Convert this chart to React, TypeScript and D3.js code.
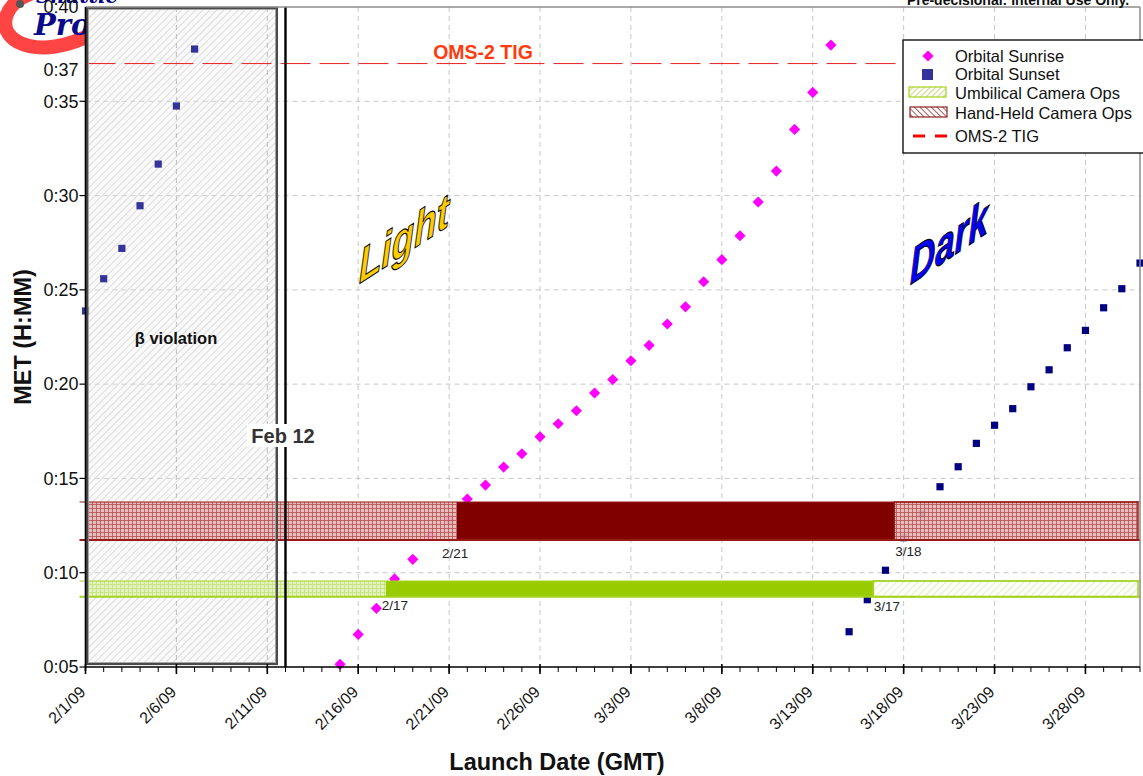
import React from "react";
import * as d3 from "d3";

// ---------- data ----------
const sunriseDates = [
  "2009-02-15", "2009-02-16", "2009-02-17", "2009-02-18", "2009-02-19", "2009-02-20", "2009-02-21",
  "2009-02-22", "2009-02-23", "2009-02-24", "2009-02-25", "2009-02-26", "2009-02-27", "2009-02-28",
  "2009-03-01", "2009-03-02", "2009-03-03", "2009-03-04", "2009-03-05", "2009-03-06", "2009-03-07",
  "2009-03-08", "2009-03-09", "2009-03-10", "2009-03-11", "2009-03-12", "2009-03-13", "2009-03-14",
];
const sunriseMET = [
  5.14, 6.73, 8.11, 9.67, 10.71, 11.98, 12.83, 13.91, 14.65, 15.6, 16.31, 17.21, 17.9, 18.59,
  19.53, 20.24, 21.24, 22.06, 23.19, 24.1, 25.43, 26.6, 27.87, 29.66, 31.3, 33.51, 35.47, 37.98,
];
const sunsetDates = [
  "2009-02-01", "2009-02-02", "2009-02-03", "2009-02-04", "2009-02-05", "2009-02-06", "2009-02-07",
  "2009-03-15", "2009-03-16", "2009-03-17", "2009-03-18", "2009-03-19", "2009-03-20", "2009-03-21",
  "2009-03-22", "2009-03-23", "2009-03-24", "2009-03-25", "2009-03-26", "2009-03-27", "2009-03-28",
  "2009-03-29", "2009-03-30", "2009-03-31",
];
const sunsetMET = [
  23.88, 25.59, 27.2, 29.46, 31.67, 34.75, 37.77,
  6.87, 8.57, 10.13, 11.86, 13.11, 14.56, 15.62, 16.86, 17.82, 18.7, 19.86, 20.76, 21.93, 22.85,
  24.05, 25.06, 26.42,
];
const xTickDates = [
  "2009-02-01", "2009-02-06", "2009-02-11", "2009-02-16", "2009-02-21", "2009-02-26",
  "2009-03-03", "2009-03-08", "2009-03-13", "2009-03-18", "2009-03-23", "2009-03-28",
];
const yTickMinutes = [5, 10, 15, 20, 25, 30, 35, 40];
const xDomain = ["2009-02-01", "2009-03-31"];
const yDomain = [5, 40];
const tigMinutes = 37;
const betaWindow = ["2009-02-01", "2009-02-11T12:40"];
const feb12Date = "2009-02-12";
const umbilicalMET = [8.73, 9.56];
const umbilicalSolid = ["2009-02-17T12:30", "2009-03-16T08:00"];
const handheldMET = [11.73, 13.75];
const handheldSolid = ["2009-02-21T10:00", "2009-03-17T11:45"];
const bandLabels = ["2/17", "3/17", "2/21", "3/18"];
const bandLabelDates = ["2009-02-17T07:00", "2009-03-16T08:30", "2009-02-20T14:30", "2009-03-17T13:00"];
const bandLabelMET = [8.29, 8.2, 11.04, 11.15];
const legendLabels = ["Orbital Sunrise", "Orbital Sunset", "Umbilical Camera Ops", "Hand-Held Camera Ops", "OMS-2 TIG"];

// ---------- helpers ----------
const pd = (s: string) => new Date(s.length === 10 ? s + "T00:00:00Z" : s + ":00Z");
const FONT = "'Liberation Sans', Arial, sans-serif";

const W = 1143;
const H = 776;
const x = d3.scaleUtc().domain(xDomain.map(pd)).range([85.5, 1140]);
const y = d3.scaleLinear().domain(yDomain).range([667, 7]);
const fmtMin = (m: number) => `0:${d3.format("02d")(Math.round(m))}`;
const fmtDate = (s: string) => {
  const d = pd(s);
  return `${d.getUTCMonth() + 1}/${d.getUTCDate()}/${String(d.getUTCFullYear()).slice(2)}`;
};

export default function App() {
  const x0 = x.range()[0];
  const x1 = x.range()[1];
  const yTop = y.range()[1];
  const yBot = y.range()[0];
  const dayTicks = d3.utcDays(pd(xDomain[0]), d3.utcDay.offset(pd(xDomain[1]), 1));
  const diamond = "M0,-5.6L5.6,0L0,5.6L-5.6,0Z";
  const square = "M-3.6,-3.6H3.6V3.6H-3.6Z";

  const bX0 = x(pd(betaWindow[0]));
  const bX1 = x(pd(betaWindow[1]));
  const feb12X = x(pd(feb12Date));

  const band = (
    met: number[],
    solid: string[],
    solidColor: string,
    leftPat: string,
    rightPat: string,
    edge: string
  ) => {
    const yt = y(met[1]);
    const yb = y(met[0]);
    const s0 = x(pd(solid[0]));
    const s1 = x(pd(solid[1]));
    return (
      <g>
        <rect x={x0 + 1} y={yt} width={s0 - x0 - 1} height={yb - yt} fill={`url(#${leftPat})`} />
        <rect x={s0} y={yt} width={s1 - s0} height={yb - yt} fill={solidColor} />
        <rect x={s1} y={yt} width={x1 - s1 - 2} height={yb - yt} fill={`url(#${rightPat})`} stroke={edge} strokeWidth={1.5} />
        <line x1={x0 - 6} x2={x1} y1={yt} y2={yt} stroke={edge} strokeWidth={1.2} />
        <line x1={x0 - 6} x2={x1} y1={yb} y2={yb} stroke={edge} strokeWidth={2} />
      </g>
    );
  };

  return (
    <svg width={W} height={H} style={{ display: "block", position: "absolute", left: 0, top: 0 }} fontFamily={FONT}>
      <defs>
        <pattern id="betaHatch" patternUnits="userSpaceOnUse" width={5} height={5} patternTransform="rotate(45)">
          <rect width={5} height={5} fill="#fafafa" />
          <line x1={0} y1={0} x2={0} y2={5} stroke="#c4c4c4" strokeWidth={1.1} />
        </pattern>
        <pattern id="redGrid" patternUnits="userSpaceOnUse" width={4} height={4}>
          <rect width={4} height={4} fill="#e6b8b8" fillOpacity={0.92} />
          <path d="M0 0.5H4M0.5 0V4" stroke="#b45050" strokeWidth={0.8} />
        </pattern>
        <pattern id="greenGrid" patternUnits="userSpaceOnUse" width={4} height={4}>
          <rect width={4} height={4} fill="#e2f2b8" fillOpacity={0.92} />
          <path d="M0 0.5H4M0.5 0V4" stroke="#c4e27e" strokeWidth={0.8} />
        </pattern>
        <pattern id="greenDiag" patternUnits="userSpaceOnUse" width={5} height={5} patternTransform="rotate(45)">
          <rect width={5} height={5} fill="#ffffff" />
          <line x1={0} y1={0} x2={0} y2={5} stroke="#cce890" strokeWidth={1.3} />
        </pattern>
        <pattern id="legGreen" patternUnits="userSpaceOnUse" width={4} height={4} patternTransform="rotate(45)">
          <rect width={4} height={4} fill="#ffffff" />
          <line x1={0} y1={0} x2={0} y2={4} stroke="#aad23c" strokeWidth={1.4} />
        </pattern>
        <pattern id="legRed" patternUnits="userSpaceOnUse" width={4} height={4} patternTransform="rotate(-45)">
          <rect width={4} height={4} fill="#ffffff" />
          <line x1={0} y1={0} x2={0} y2={4} stroke="#9a3030" strokeWidth={1.6} />
        </pattern>
      </defs>

      <rect width={W} height={H} fill="#ffffff" />

      {/* logo (partial) */}
      <g>
        <path d="M30,-6 C4,4 -4,30 18,42 C40,53 70,46 94,33" fill="none" stroke="#ff4444" strokeWidth={14} strokeLinecap="round" />
        <circle cx={20} cy={4} r={4} fill="#555" />
        <text x={36} y={3} fontFamily="'DejaVu Serif', serif" fontStyle="italic" fontWeight="bold" fontSize={20} fill="#000080">Shuttle</text>
        <text x={34} y={35} fontFamily="'DejaVu Serif', serif" fontStyle="italic" fontWeight="bold" fontSize={29} fill="#0a0a8a">Program</text>
      </g>

      {/* plot area */}
      <rect x={x0} y={yTop} width={x1 - x0 + 3} height={yBot - yTop} fill="#ffffff" />

      {/* gridlines */}
      {yTickMinutes.filter((m) => m > yDomain[0] && m < yDomain[1]).map((m) => (
        <line key={"gy" + m} x1={x0} x2={x1} y1={y(m)} y2={y(m)} stroke="#c8c8c8" strokeDasharray="5,4" />
      ))}
      {xTickDates.slice(1).map((s) => (
        <line key={"gx" + s} x1={x(pd(s))} x2={x(pd(s))} y1={yTop} y2={yBot} stroke="#c8c8c8" strokeDasharray="5,4" />
      ))}

      {/* beta violation box fill */}
      <rect x={bX0 + 1.5} y={yTop + 1} width={bX1 - bX0 - 1.5} height={yBot - yTop - 4} fill="url(#betaHatch)" />
      {xTickDates.slice(1, 3).map((s) => (
        <line key={"gb" + s} x1={x(pd(s))} x2={x(pd(s))} y1={yTop} y2={yBot - 3} stroke="#bdbdbd" strokeDasharray="5,4" />
      ))}
      {yTickMinutes.filter((m) => m > yDomain[0] && m < yDomain[1]).map((m) => (
        <line key={"gyb" + m} x1={x0} x2={bX1} y1={y(m)} y2={y(m)} stroke="#d0d0d0" strokeDasharray="5,4" />
      ))}

      {/* OMS-2 TIG */}
      <line x1={x0} x2={x1} y1={y(tigMinutes)} y2={y(tigMinutes)} stroke="#e82020" strokeWidth={1} strokeDasharray="30,9" />
      <text x={483} y={y(tigMinutes) - 5} textAnchor="middle" fontWeight="bold" fontSize={19.5} fill="#ff3b0f">OMS-2 TIG</text>

      {/* points */}
      {sunriseDates.map((s, i) => (
        <path key={"sr" + s} d={diamond} transform={`translate(${x(pd(s))},${y(sunriseMET[i])})`} fill="#ff00ff" />
      ))}
      {sunsetDates.map((s, i) => (
        <path key={"ss" + s} d={square} transform={`translate(${x(pd(s))},${y(sunsetMET[i])})`} fill={i < 7 ? "#333399" : "#000080"} />
      ))}

      {/* bands */}
      {band(handheldMET, handheldSolid, "#800000", "redGrid", "redGrid", "#9a1a1a")}
      {band(umbilicalMET, umbilicalSolid, "#99cc00", "greenGrid", "greenDiag", "#a4d21e")}

      {bandLabels.map((t, i) => (
        <text key={t} x={x(pd(bandLabelDates[i]))} y={y(bandLabelMET[i])} dy="0.35em" fontSize={13.5} fill="#222">{t}</text>
      ))}

      {/* beta violation box border */}
      <rect x={bX0 + 1.5} y={yTop + 1} width={bX1 - bX0 - 1.5} height={yBot - yTop - 4} fill="none" stroke="#4a4a4a" strokeWidth={2.2} />
      <rect x={bX0 + 3} y={yTop + 2.5} width={bX1 - bX0 - 4.5} height={yBot - yTop - 7} fill="none" stroke="#9a9a9a" strokeWidth={0.8} />
      <text x={176} y={338} dy="0.35em" textAnchor="middle" fontWeight="bold" fontSize={16.5} fill="#111">β violation</text>

      {/* Feb 12 line */}
      <line x1={feb12X} x2={feb12X} y1={yTop} y2={yBot} stroke="#000" strokeWidth={2.4} />
      <rect x={247} y={424} width={72} height={23} fill="#ffffff" />
      <text x={283} y={436} dy="0.35em" textAnchor="middle" fontWeight="bold" fontSize={20} fill="#333">Feb 12</text>

      {/* Light / Dark word art */}
      <text transform="translate(359,284) skewY(-33)" fontSize={48} fontWeight="bold" fontStyle="italic"
        textLength={90} lengthAdjust="spacingAndGlyphs" fill="#ffcc00" stroke="#000" strokeWidth={1.1}>Light</text>
      <text transform="translate(910,285) skewY(-34)" fontSize={50} fontWeight="bold" fontStyle="italic"
        textLength={78} lengthAdjust="spacingAndGlyphs" fill="#0000ff" stroke="#000" strokeWidth={1.1}>Dark</text>

      {/* frame */}
      <line x1={x0} x2={x1} y1={yTop} y2={yTop} stroke="#8c8c8c" strokeWidth={1.5} />
      <line x1={x1} x2={x1} y1={yTop} y2={yBot} stroke="#8c8c8c" strokeWidth={1.5} />

      {/* axes */}
      <line x1={x0} x2={x0} y1={yTop} y2={yBot + 4} stroke="#000" strokeWidth={1.6} />
      <line x1={x0} x2={x1} y1={yBot} y2={yBot} stroke="#000" strokeWidth={1.6} />
      {yTickMinutes.slice(0, -1).map((m) => (
        <line key={"ty" + m} x1={x0 - 6} x2={x0} y1={y(m)} y2={y(m)} stroke="#000" strokeWidth={1.2} />
      ))}
      {dayTicks.map((d) => (
        <line key={"td" + d.getTime()} x1={x(d)} x2={x(d)} y1={yBot} y2={yBot + 5} stroke="#000" strokeWidth={1} />
      ))}
      {xTickDates.map((s) => (
        <line key={"tx" + s} x1={x(pd(s))} x2={x(pd(s))} y1={yBot - 3} y2={yBot + 7} stroke="#000" strokeWidth={1.6} />
      ))}

      {yTickMinutes.map((m) => (
        <text key={"ly" + m} x={x0 - 7} y={y(m)} dy="0.35em" textAnchor="end" fontSize={18} fill="#111">{fmtMin(m)}</text>
      ))}
      <text x={x0 - 7} y={y(tigMinutes) + 6} dy="0.35em" textAnchor="end" fontSize={18} fill="#111">{fmtMin(tigMinutes)}</text>

      {xTickDates.map((s) => (
        <text key={"lx" + s} transform={`translate(${x(pd(s)) - 3},${yBot + 22}) rotate(-45)`} textAnchor="end" dy="0.35em" fontSize={16} fill="#111">{fmtDate(s)}</text>
      ))}

      <text transform={`translate(31,${(yTop + yBot) / 2}) rotate(-90)`} textAnchor="middle" fontWeight="bold" fontSize={23.5} fill="#111">MET (H:MM)</text>
      <text x={557} y={770} textAnchor="middle" fontWeight="bold" fontSize={23.5} fill="#111">Launch Date (GMT)</text>

      <text x={1018} y={5} textAnchor="middle" fontWeight="bold" fontSize={14} fill="#111">Pre-decisional:  Internal Use Only.</text>

      {/* legend */}
      <g transform="translate(903,40)">
        <rect x={0} y={0} width={245} height={113} fill="#ffffff" stroke="#000" strokeWidth={1.3} />
        <path d={diamond} transform="translate(25,16)" fill="#ff00ff" />
        <rect x={19} y={29} width={11} height={11} fill="#333399" />
        <rect x={6} y={47} width={37} height={10} fill="url(#legGreen)" stroke="#a4d21e" strokeWidth={1.2} />
        <rect x={7} y={67} width={37} height={10} fill="url(#legRed)" stroke="#8b2222" strokeWidth={1.2} />
        <line x1={10} x2={45} y1={96} y2={96} stroke="#ff0000" strokeWidth={3} strokeDasharray="12,10" />
        {legendLabels.map((t, i) => (
          <text key={t} x={52} y={[16, 34, 53, 73, 96][i]} dy="0.35em" fontSize={16.5} fill="#111">{t}</text>
        ))}
      </g>
    </svg>
  );
}
